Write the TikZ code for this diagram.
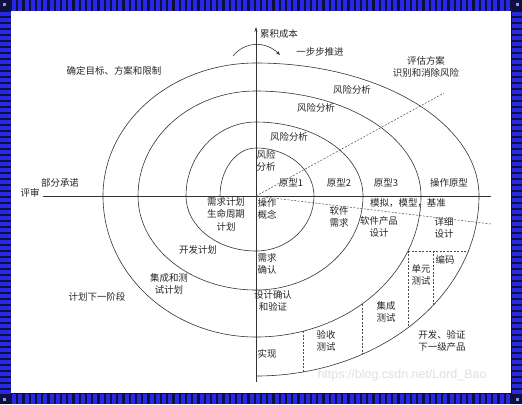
\documentclass[tikz,border=0pt]{standalone}
\usepackage{fontspec}
\setmainfont{Noto Sans CJK SC}
\newfontfamily\wmfont{Liberation Sans}
\usetikzlibrary{arrows.meta,positioning}

\definecolor{frameblue}{RGB}{40,40,228}
\definecolor{framedark}{RGB}{16,16,64}

\begin{document}
\begin{tikzpicture}[x=1bp,y=-1bp,
    lbl/.style={font=\fontsize{9.5}{12.5}\selectfont,align=center,inner sep=0pt,text=black!85},
    spir/.style={line width=0.6bp,black!80},
    band/.style={line width=0.5bp,black!70,dash pattern=on 2bp off 1.5bp}]
  \useasboundingbox (0,0) rectangle (522,404);
  % striped frame
  \fill[framedark] (0,0) rectangle (522,404);
  \fill[white] (11,11) rectangle (511,393);
  \foreach \x in {12,18.25,...,508} {
    \fill[frameblue] (\x,0) rectangle ++(4,10.5);
    \fill[frameblue] (\x,393.5) rectangle ++(4,10.5);
  }
  \foreach \y in {12,18,...,390} {
    \fill[frameblue] (0,\y) rectangle ++(10.5,3.5);
    \fill[frameblue] (511.5,\y) rectangle ++(10.5,3.5);
  }
  \foreach \cx/\cy in {3/3,516/3,3/398,516/398}
    \fill[frameblue!50] (\cx,\cy) rectangle ++(2.5,2.5);

  % axes
  \coordinate (O) at (256,196);
  \coordinate (hl) at (43,196);
  \coordinate (hr) at (491,196);
  \coordinate (vb) at (256,382);
  \coordinate (vt) at (256,27);
  \draw[spir] (hl) -- (hr);
  \draw[spir,-{Stealth[length=5bp,width=3bp]}] (vb) -- (vt);
  \draw[spir,-{Stealth[length=4bp,width=3bp]}] (233,56) .. controls (245,41) and (266,41) .. (280,55);

  % spiral
  \draw[spir] (220,196)
    arc[start angle=180,end angle=270,x radius=36,y radius=48]
    arc[start angle=270,end angle=360,x radius=58,y radius=48]
    arc[start angle=0,end angle=90,x radius=58,y radius=55]
    arc[start angle=90,end angle=180,x radius=70,y radius=55]
    arc[start angle=180,end angle=270,x radius=70,y radius=74]
    arc[start angle=270,end angle=360,x radius=107,y radius=74]
    arc[start angle=0,end angle=90,x radius=107,y radius=94]
    arc[start angle=90,end angle=180,x radius=118,y radius=94]
    arc[start angle=180,end angle=270,x radius=118,y radius=105]
    arc[start angle=270,end angle=360,x radius=165,y radius=105]
    arc[start angle=0,end angle=90,x radius=165,y radius=141]
    arc[start angle=90,end angle=180,x radius=153,y radius=141]
    arc[start angle=180,end angle=270,x radius=153,y radius=133]
    arc[start angle=270,end angle=360,x radius=223,y radius=133]
    arc[start angle=0,end angle=90,x radius=223,y radius=180];

  % dashed rays and bands
  \coordinate (ru) at (444,93);
  \coordinate (rd) at (491,224);
  \draw[band] (O) -- (ru);
  \draw[band] (O) -- (rd);
  \draw[band] (303,331.2) -- (303,372);
  \draw[band] (362,304.1) -- (362,354.4);
  \draw[band] (408,250.9) -- (408,327.7);
  \draw[band] (408,250.9) -- (468.3,250.9);
  \draw[band] (433,250.9) -- (433,305.5);

  % top labels
  \node[lbl] (cost) at (279,34) {累积成本};
  \node[lbl] (step) at (320,52) {一步步推进};
  \node[lbl] (eval) at (426,67) {评估方案\\识别和消除风险};
  \node[lbl] (goal) at (114,71) {确定目标、方案和限制};
  \node[lbl] (risk4) at (352,90) {风险分析};
  \node[lbl] (risk3) at (316,108) {风险分析};
  \node[lbl] (risk2) at (289,137) {风险分析};
  \node[lbl] (risk1) at (266,161) {风险\\分析};
  \node[lbl] (commit) at (60,183) {部分承诺};
  \node[lbl] (review) at (30,193) {评审};

  % prototypes
  \node[lbl] (proto1) at (291,183) {原型1};
  \node[lbl] (proto2) at (339,183) {原型2};
  \node[lbl] (proto3) at (386,183) {原型3};
  \node[lbl] (protoop) at (449,183) {操作原型};
  \node[lbl] (sim) at (408,203) {模拟，模型，基准};

  % lower right
  \node[lbl] (opcon) at (267,209) {操作\\概念};
  \node[lbl] (swreq) at (339,217) {软件\\需求};
  \node[lbl] (prod) at (379,227) {软件产品\\设计};
  \node[lbl] (detail) at (444,228) {详细\\设计};
  \node[lbl] (code) at (445,260) {编码};
  \node[lbl] (unit) at (421,275) {单元\\测试};
  \node[lbl] (integ) at (386,312) {集成\\测试};
  \node[lbl] (accept) at (326,341) {验收\\测试};
  \node[lbl] (impl) at (267,354) {实现};
  \node[lbl] (next) at (442,341) {开发、验证\\下一级产品};
  \node[lbl] (reqok) at (267,264) {需求\\确认};
  \node[lbl] (desok) at (273,301) {设计确认\\和验证};

  % lower left
  \node[lbl] (reqplan) at (226,214) {需求计划\\生命周期\\计划};
  \node[lbl] (devplan) at (198,250) {开发计划};
  \node[lbl] (testplan) at (169,284) {集成和测\\试计划};
  \node[lbl] (plannext) at (97,297) {计划下一阶段};

  % watermark
  \node[font=\wmfont\fontsize{12.5}{14}\selectfont,text=black!12,inner sep=0pt] (wm) at (402,375) {https://blog.csdn.net/Lord\_Bao};
\end{tikzpicture}
\end{document}
